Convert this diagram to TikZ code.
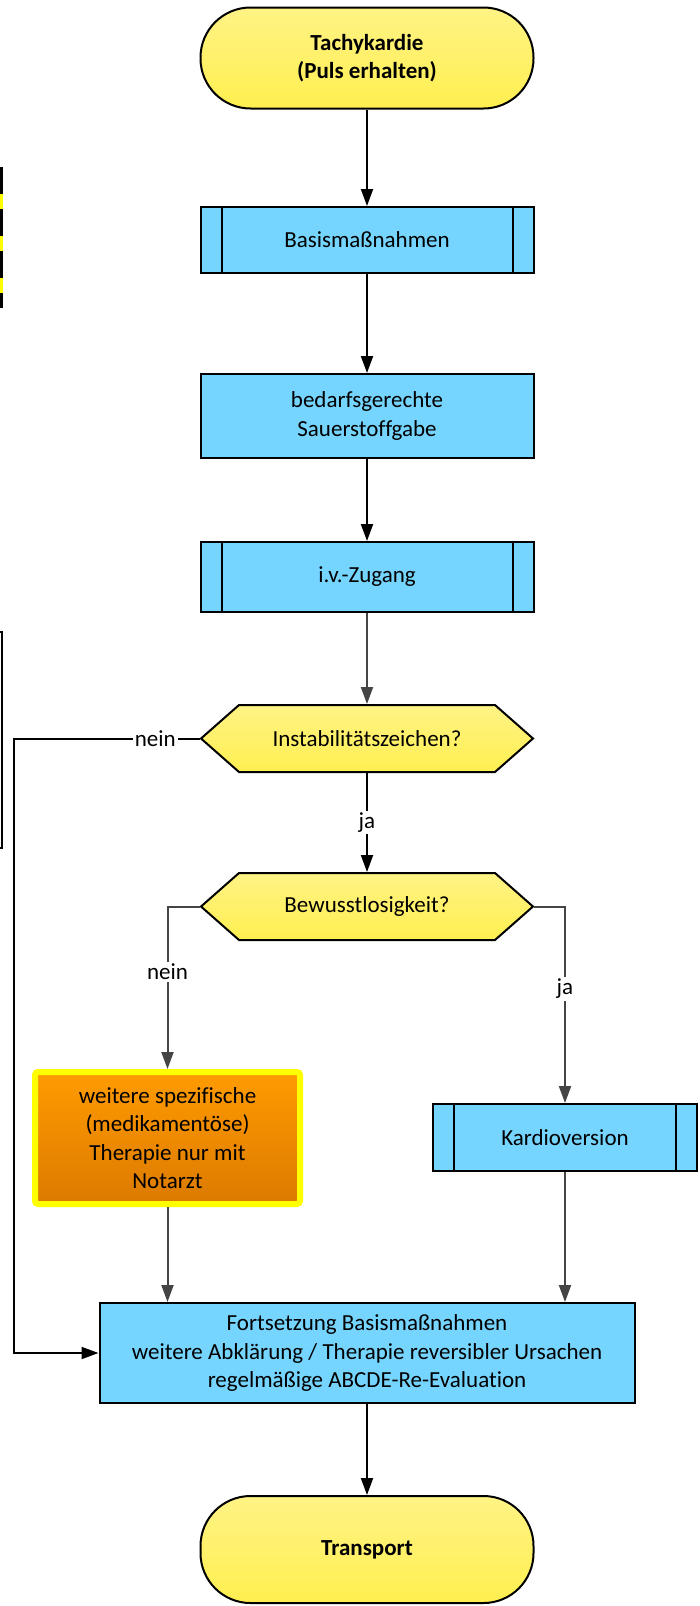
\documentclass[tikz,border=0pt]{standalone}
\usepackage{fontspec}
\setmainfont{Carlito}[Ligatures=NoCommon]
\usepackage{xcolor}
\definecolor{gelbhell}{HTML}{FFF385}
\definecolor{gelbsatt}{HTML}{FFEF50}
\definecolor{himmel}{HTML}{76D5FF}
\definecolor{orangehell}{HTML}{FF9B00}
\definecolor{orangedunkel}{HTML}{DC7A00}
\definecolor{rahmengelb}{HTML}{FFFF00}
\definecolor{pfeilgrau}{HTML}{454545}
\usepackage{tikz}
\usetikzlibrary{positioning,arrows.meta,calc}

\begin{document}
\begin{tikzpicture}[x=1pt,y=-1pt,font=\fontsize{23}{28.5}\selectfont,
  every node/.style={align=center,line width=2pt},
  start/.style={draw,rounded corners=50pt,top color=gelbhell,bottom color=gelbsatt,
    minimum width=333pt,minimum height=101pt,font=\fontsize{23}{28.5}\selectfont\bfseries},
  proc/.style={draw,fill=himmel,minimum width=333pt,minimum height=66pt},
  sub/.style={proc,path picture={
    \draw[line width=2pt] ([xshift=21pt]path picture bounding box.north west)
      -- ([xshift=21pt]path picture bounding box.south west);
    \draw[line width=2pt] ([xshift=-21pt]path picture bounding box.north east)
      -- ([xshift=-21pt]path picture bounding box.south east);}},
  hexa/.style={draw,line width=2pt,top color=gelbhell,bottom color=gelbsatt},
  frage/.style={minimum width=332pt,minimum height=67pt,outer sep=1pt},
  notfall/.style={draw=rahmengelb,line width=6pt,rounded corners=3pt,
    top color=orangehell,bottom color=orangedunkel,minimum width=265pt,minimum height=132pt},
  lab/.style={fill=white,inner sep=2pt},
  pfeil/.style={-{Triangle[length=17pt,width=12pt]},line width=2pt},
  grau/.style={draw=pfeilgrau}]
\useasboundingbox (0,0) rectangle (700,1606);
% angeschnittene Elemente am linken Rand
\draw[line width=2pt] (-60,632) rectangle (2,848);
\draw[rahmengelb,line width=3pt] (1,167) -- (1,308);
\draw[line width=3pt,dash pattern=on 27pt off 15pt] (1,167) -- (1,308);
% Sechsecke der beiden Abfragen
\foreach \y in {738.5,906.5}{
  \begin{scope}[shift={(367,\y)}]
    \draw[hexa] (-166,0) -- (-128,-33.5) -- (128,-33.5) -- (166,0)
      -- (128,33.5) -- (-128,33.5) -- cycle;
  \end{scope}
}
% Hauptpfad
\node[start] (tachy) at (367,58) {Tachykardie\\(Puls erhalten)};
\node[sub] (basis) at (367,240) {Basismaßnahmen};
\node[proc,minimum height=84pt] (sauer) at (367,416) {bedarfsgerechte\\Sauerstoffgabe};
\node[sub,minimum height=70pt] (zugang) at (367,577) {i.v.-Zugang};
\node[frage] (instab) at (367,738.5) {Instabilitätszeichen?};
\node[frage] (bewusst) at (367,906.5) {Bewusstlosigkeit?};
% Verzweigung
\node[notfall] (notarzt) at (167.5,1138) {weitere spezifische\\(medikamentöse)\\Therapie nur mit\\Notarzt};
\node[sub,minimum width=264pt,minimum height=67pt] (kardio) at (565,1137.5) {Kardioversion};
\node[proc,minimum width=535pt,minimum height=100pt] (fort) at (367,1353)
  {Fortsetzung Basismaßnahmen\\weitere Abklärung / Therapie reversibler Ursachen\\regelmäßige ABCDE-Re-Evaluation};
\node[start,minimum height=107pt] (transport) at (367,1549.5) {Transport};
\coordinate (linksx) at (14,0);
% Verbindungen
\draw[pfeil] (tachy) -- (basis);
\draw[pfeil] (basis) -- (sauer);
\draw[pfeil] (sauer) -- (zugang);
\draw[pfeil,grau] (zugang.south) -- (instab.north);
\draw[pfeil] (instab.south) -- node[lab]{ja} (bewusst.north);
\draw[pfeil] (instab.west) -- node[lab,pos=0.24]{nein} (instab.west -| linksx) |- (fort.west);
\draw[pfeil,grau] (bewusst.west) -| node[lab,pos=0.70]{nein} (notarzt.north);
\draw[pfeil,grau] (bewusst.east) -| node[lab,pos=0.71]{ja} (kardio.north);
\draw[pfeil,grau] (notarzt.south) -- (notarzt.south |- fort.north);
\draw[pfeil,grau] (kardio.south) -- (kardio.south |- fort.north);
\draw[pfeil] (fort) -- (transport);
\end{tikzpicture}
\end{document}
